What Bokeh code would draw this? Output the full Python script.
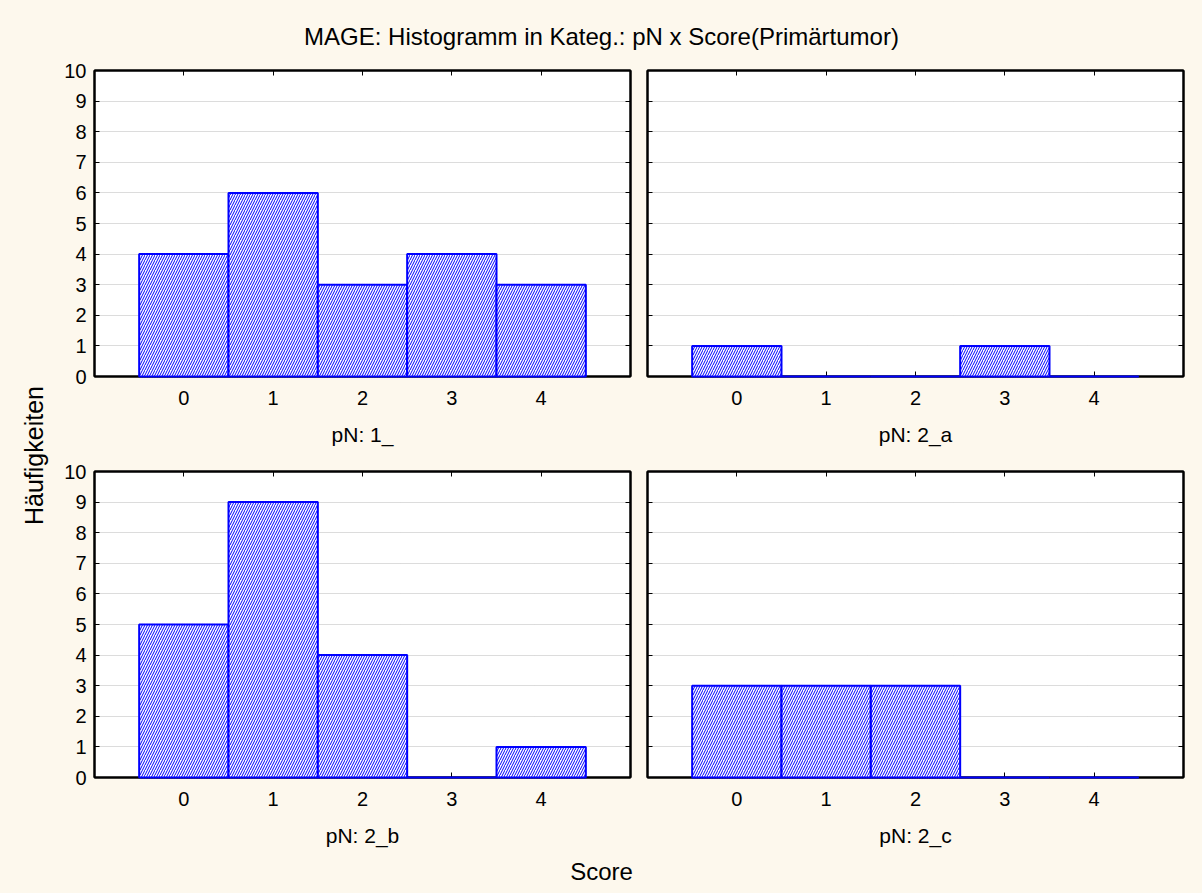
from bokeh.plotting import figure
from bokeh.layouts import column, row
from bokeh.models import FixedTicker, LinearAxis, Label, Range1d, CustomJSTickFormatter, Grid
from bokeh.embed import file_html
from bokeh.resources import INLINE
import math

# ---- data ----
scores = [0, 1, 2, 3, 4]
panel_labels = ["pN: 1_", "pN: 2_a", "pN: 2_b", "pN: 2_c"]
counts_1 = [4, 6, 3, 4, 3]
counts_2a = [1, 0, 0, 1, 0]
counts_2b = [5, 9, 4, 0, 1]
counts_2c = [3, 3, 3, 0, 0]
y_ticks = list(range(0, 11))
title_text = "MAGE: Histogramm in Kateg.: pN x Score(Primärtumor)"
x_title = "Score"
y_title = "Häufigkeiten"

BG = "#FDF8ED"
FONT = "Liberation Sans"
BLUE = "#0000FF"


def blank(w, h):
    p = figure(width=w, height=h, x_range=Range1d(0, 1), y_range=Range1d(0, 1),
               x_axis_type=None, y_axis_type=None, output_backend="svg",
               toolbar_location=None, min_border=0)
    p.grid.visible = False
    p.outline_line_color = None
    p.background_fill_color = BG
    p.border_fill_color = BG
    return p


def style_axis(ax, labels=True):
    ax.major_tick_in = 5
    ax.major_tick_out = 0
    ax.minor_tick_line_color = None
    ax.axis_line_color = "black"
    ax.axis_line_width = 2
    ax.major_tick_line_color = "black"
    ax.major_tick_line_width = 1
    ax.major_label_text_font = FONT
    ax.major_label_text_font_size = "20px"
    ax.major_label_text_color = "black"
    if not labels:
        ax.formatter = CustomJSTickFormatter(code="return ''")
        ax.major_label_standoff = 0


def panel(vals, label, w, h, bl, br, bt, bb, ylabels):
    p = figure(width=w, height=h, x_range=Range1d(-1, 5), y_range=Range1d(0, 10),
               x_axis_type=None, y_axis_type=None,
               output_backend="svg", toolbar_location=None,
               min_border_left=bl, min_border_right=br, min_border_top=bt, min_border_bottom=bb)
    p.background_fill_color = "white"
    p.border_fill_color = BG
    p.outline_line_color = "black"
    p.outline_line_width = 2

    p.quad(left=[s - 0.5 for s in scores], right=[s + 0.5 for s in scores],
           bottom=0, top=vals, fill_color="white", line_color=BLUE, line_width=2,
           hatch_pattern="/", hatch_color=BLUE, hatch_scale=5, hatch_weight=1,
           level="overlay")

    bottom = LinearAxis(ticker=FixedTicker(ticks=scores))
    top = LinearAxis(ticker=FixedTicker(ticks=scores))
    left = LinearAxis(ticker=FixedTicker(ticks=y_ticks))
    right = LinearAxis(ticker=FixedTicker(ticks=y_ticks))
    p.add_layout(bottom, "below")
    p.add_layout(top, "above")
    p.add_layout(left, "left")
    p.add_layout(right, "right")
    style_axis(bottom, True)
    style_axis(top, False)
    style_axis(left, ylabels)
    style_axis(right, False)
    bottom.major_label_standoff = 14
    bottom.axis_label = label
    bottom.axis_label_text_font = FONT
    bottom.axis_label_text_font_size = "21px"
    bottom.axis_label_text_font_style = "normal"
    bottom.axis_label_text_color = "black"
    bottom.axis_label_standoff = 15
    if ylabels:
        left.major_label_standoff = 8

    p.ygrid.visible = False
    p.xgrid.visible = False
    g = Grid(dimension=1, ticker=FixedTicker(ticks=y_ticks), grid_line_color="#b8b8b8",
             grid_line_dash="1 1", grid_line_width=1)
    p.add_layout(g)
    return p


tl = panel(counts_1, panel_labels[0], 583, 400, 39, 8, 15, 79, True)
tr = panel(counts_2a, panel_labels[1], 564, 400, 9, 19, 15, 79, False)
bl = panel(counts_2b, panel_labels[2], 583, 400, 39, 8, 16, 78, True)
br = panel(counts_2c, panel_labels[3], 564, 400, 9, 19, 16, 78, False)

title = blank(1202, 55)
title.add_layout(Label(x=601, y=19, x_units="screen", y_units="screen", text=title_text,
                       text_font=FONT, text_font_size="24px", text_align="center",
                       text_baseline="middle", text_color="black"))

ylab = blank(55, 800)
ylab.add_layout(Label(x=33, y=400, x_units="screen", y_units="screen", text=y_title,
                      angle=math.pi / 2, text_font=FONT, text_font_size="25px",
                      text_align="center", text_baseline="middle", text_color="black"))

xlab = blank(1202, 38)
xlab.add_layout(Label(x=601, y=22, x_units="screen", y_units="screen", text=x_title,
                      text_font=FONT, text_font_size="24px", text_align="center",
                      text_baseline="middle", text_color="black"))

grid = column(row(tl, tr, spacing=0), row(bl, br, spacing=0), spacing=0)
layout = column(title, row(ylab, grid, spacing=0), xlab, spacing=0)

html = file_html(layout, INLINE)
html = html.replace("<head>", "<head><style>html,body{background:%s;}</style>" % BG, 1)
open("out.html", "w").write(html)
